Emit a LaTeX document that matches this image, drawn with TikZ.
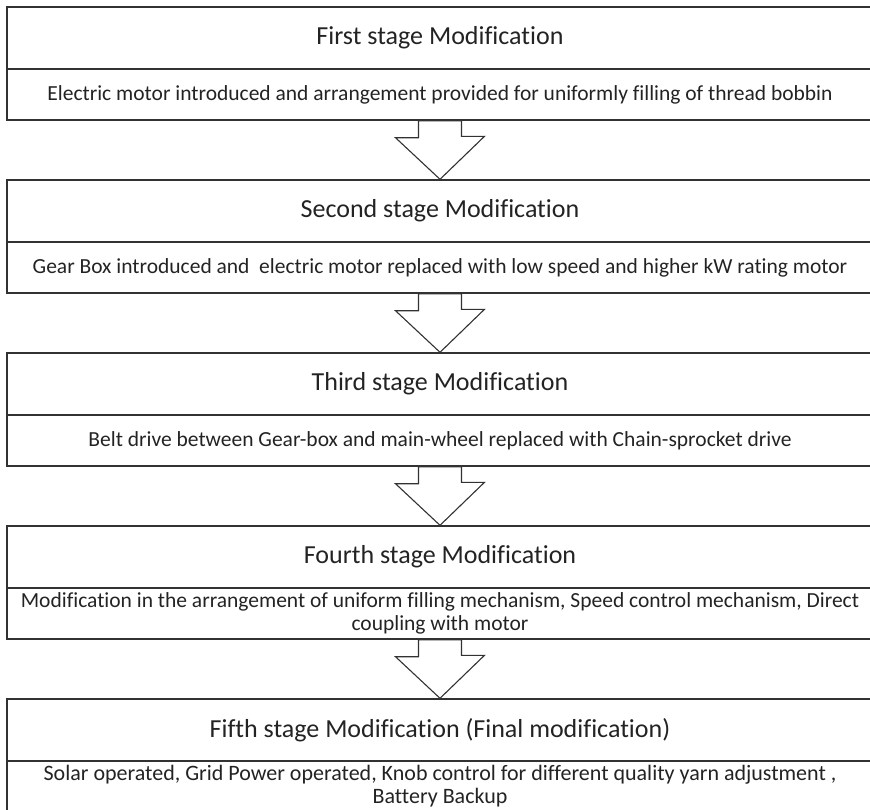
\documentclass[tikz,border=0pt]{standalone}
\usepackage{fontspec}
\setmainfont[Ligatures=NoCommon]{Carlito}
\begin{document}
\begin{tikzpicture}[x=1pt,y=-1pt,
  edgecol/.style={draw={rgb,255:red,50;green,50;blue,50}},
  title/.style={edgecol, line width=1.4pt, minimum width=866pt, minimum height=62pt,
    inner sep=0pt, font=\fontsize{26}{30}\selectfont, text={rgb,255:red,35;green,35;blue,35}},
  desc/.style={edgecol, line width=1.4pt, minimum width=866pt, minimum height=51pt,
    inner sep=0pt, align=center, font=\fontsize{21.5}{23}\selectfont, text={rgb,255:red,35;green,35;blue,35}},
  flow/.style={edgecol, line width=1.1pt, fill=white, line join=miter}]
\useasboundingbox (0,0) rectangle (870,809);

% stage boxes: title strip on top, description strip below
\node[title] (t1) at (440,38)  {First stage Modification};
\node[desc]  (d1) at (440,94.5) {Electric motor introduced and arrangement provided for uniformly filling of thread bobbin};

\node[title] (t2) at (440,211) {Second stage Modification};
\node[desc]  (d2) at (440,267.5) {Gear Box introduced and \ electric motor replaced with low speed and higher kW rating motor};

\node[title] (t3) at (440,384) {Third stage Modification};
\node[desc]  (d3) at (440,440.5) {Belt drive between Gear-box and main-wheel replaced with Chain-sprocket drive};

\node[title] (t4) at (440,557) {Fourth stage Modification};
\node[desc]  (d4) at (440,613.5) {Modification in the arrangement of uniform filling mechanism, Speed control mechanism, Direct\\coupling with motor};

\node[title] (t5) at (440,730) {Fifth stage Modification (Final modification)};
\node[desc, font=\fontsize{22}{23}\selectfont]  (d5) at (440,786) {Solar operated, Grid Power operated, Knob control for different quality yarn adjustment ,\\Battery Backup};

% hollow block arrows between stages
\foreach \a/\b in {d1/t2, d2/t3, d3/t4, d4/t5}{
  \draw[flow] ([xshift=-21.5pt]\a.south) -- ++(0,17) -- ++(-23,0) -- (\b.north)
    -- ([shift={(44.5,-43)}]\b.north) -- ++(-23,0) -- ([xshift=21.5pt]\a.south) -- cycle;
}
\end{tikzpicture}
\end{document}
